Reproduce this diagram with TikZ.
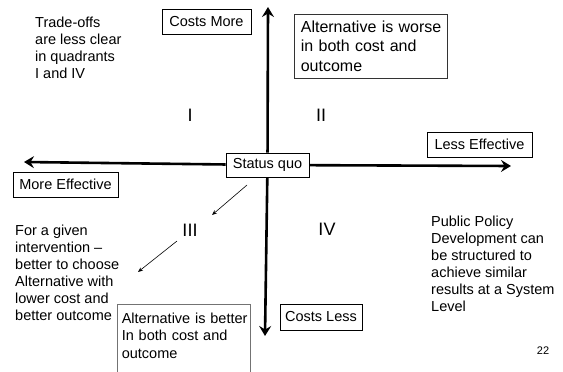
\documentclass[tikz,border=0pt]{standalone}
\usepackage{fontspec}
\setmainfont{Liberation Sans}
\usetikzlibrary{arrows.meta}
\hyphenpenalty=10000
\begin{document}
\begin{tikzpicture}[x=1pt,y=-1pt,
  axis/.style={line width=2.6pt,-{Stealth[length=10pt,width=12pt,inset=3.5pt]}},
  ptr/.style={line width=0.6pt,-{Stealth[length=5pt,width=4pt]}},
  lbl/.style={draw=black,line width=0.9pt,fill=white,inner sep=0pt,font=\fontsize{14.5}{17}\selectfont},
  para/.style={anchor=north west,inner sep=0pt,align=left,font=\fontsize{14.5}{17}\selectfont},
  roman/.style={font=\fontsize{18}{20}\selectfont,inner sep=0pt}
]
\useasboundingbox (0,0) rectangle (563,372);

% axis end points
\coordinate (T) at (268,7);
\coordinate (B) at (265,336);
\coordinate (L) at (24,162);
\coordinate (R) at (511,166);

\node[lbl,minimum width=83pt,minimum height=24pt,line width=0.7pt] (sq) at (267.5,165) {Status quo};

\draw[axis] (sq) -- (T);
\draw[axis] (sq) -- (B);
\draw[axis] (sq) -- (L);
\draw[axis] (sq) -- (R);

% axis labels
\node[lbl,minimum width=89pt,minimum height=25pt] (cm) at (206.5,21.5) {Costs More};
\node[lbl,minimum width=105pt,minimum height=25pt] (le) at (479.5,144.5) {Less Effective};
\node[lbl,minimum width=105pt,minimum height=25pt] (me) at (65.5,184.5) {More Effective};
\node[lbl,minimum width=82pt,minimum height=26pt] (cl) at (321,317) {Costs Less};

% quadrant boxes
\node[lbl,anchor=north west,text width=147pt,align=left,inner xsep=3pt,inner ysep=6.5pt,
      line width=0.7pt,draw=black!80,font=\fontsize{16}{19.5}\selectfont] (worse) at (294,14)
  {\hspace*{3.5pt}Alternative is worse\\\hspace*{3.5pt}in both cost and\\\hspace*{3.5pt}outcome};
\node[lbl,anchor=north west,text width=130pt,align=left,inner xsep=1.5pt,inner ysep=8.5pt,
      line width=0.6pt,draw=black!55,font=\fontsize{14.5}{17.5}\selectfont] (better) at (117,304)
  {\hspace*{3pt}Alternative is better\\\hspace*{3pt}In both cost and\\\hspace*{3pt}outcome\\~};

% quadrant numerals
\node[roman] (q1) at (190,115) {I};
\node[roman] (q2) at (321,115) {II};
\node[roman] (q3) at (190,230) {III};
\node[roman] (q4) at (327,229) {IV};

% free texts
\node[para] (trade) at (35,17) {Trade-offs\\are less clear\\in quadrants\\I and IV};
\node[para] (given) at (15,225) {For a given\\intervention –\\better to choose\\Alternative with\\lower cost and\\better outcome};
\node[para] (policy) at (431,216) {Public Policy\\Development can\\be structured to\\achieve similar\\results at a System\\Level};

% thin pointers
\coordinate (a1s) at (247,185);
\coordinate (a1e) at (212,215);
\coordinate (a2s) at (177,241);
\coordinate (a2e) at (138,272);
\draw[ptr] (a1s) -- (a1e);
\draw[ptr] (a2s) -- (a2e);

% page number
\node[font=\fontsize{11}{13}\selectfont,inner sep=0pt] (pg) at (543,351) {22};
\end{tikzpicture}
\end{document}
